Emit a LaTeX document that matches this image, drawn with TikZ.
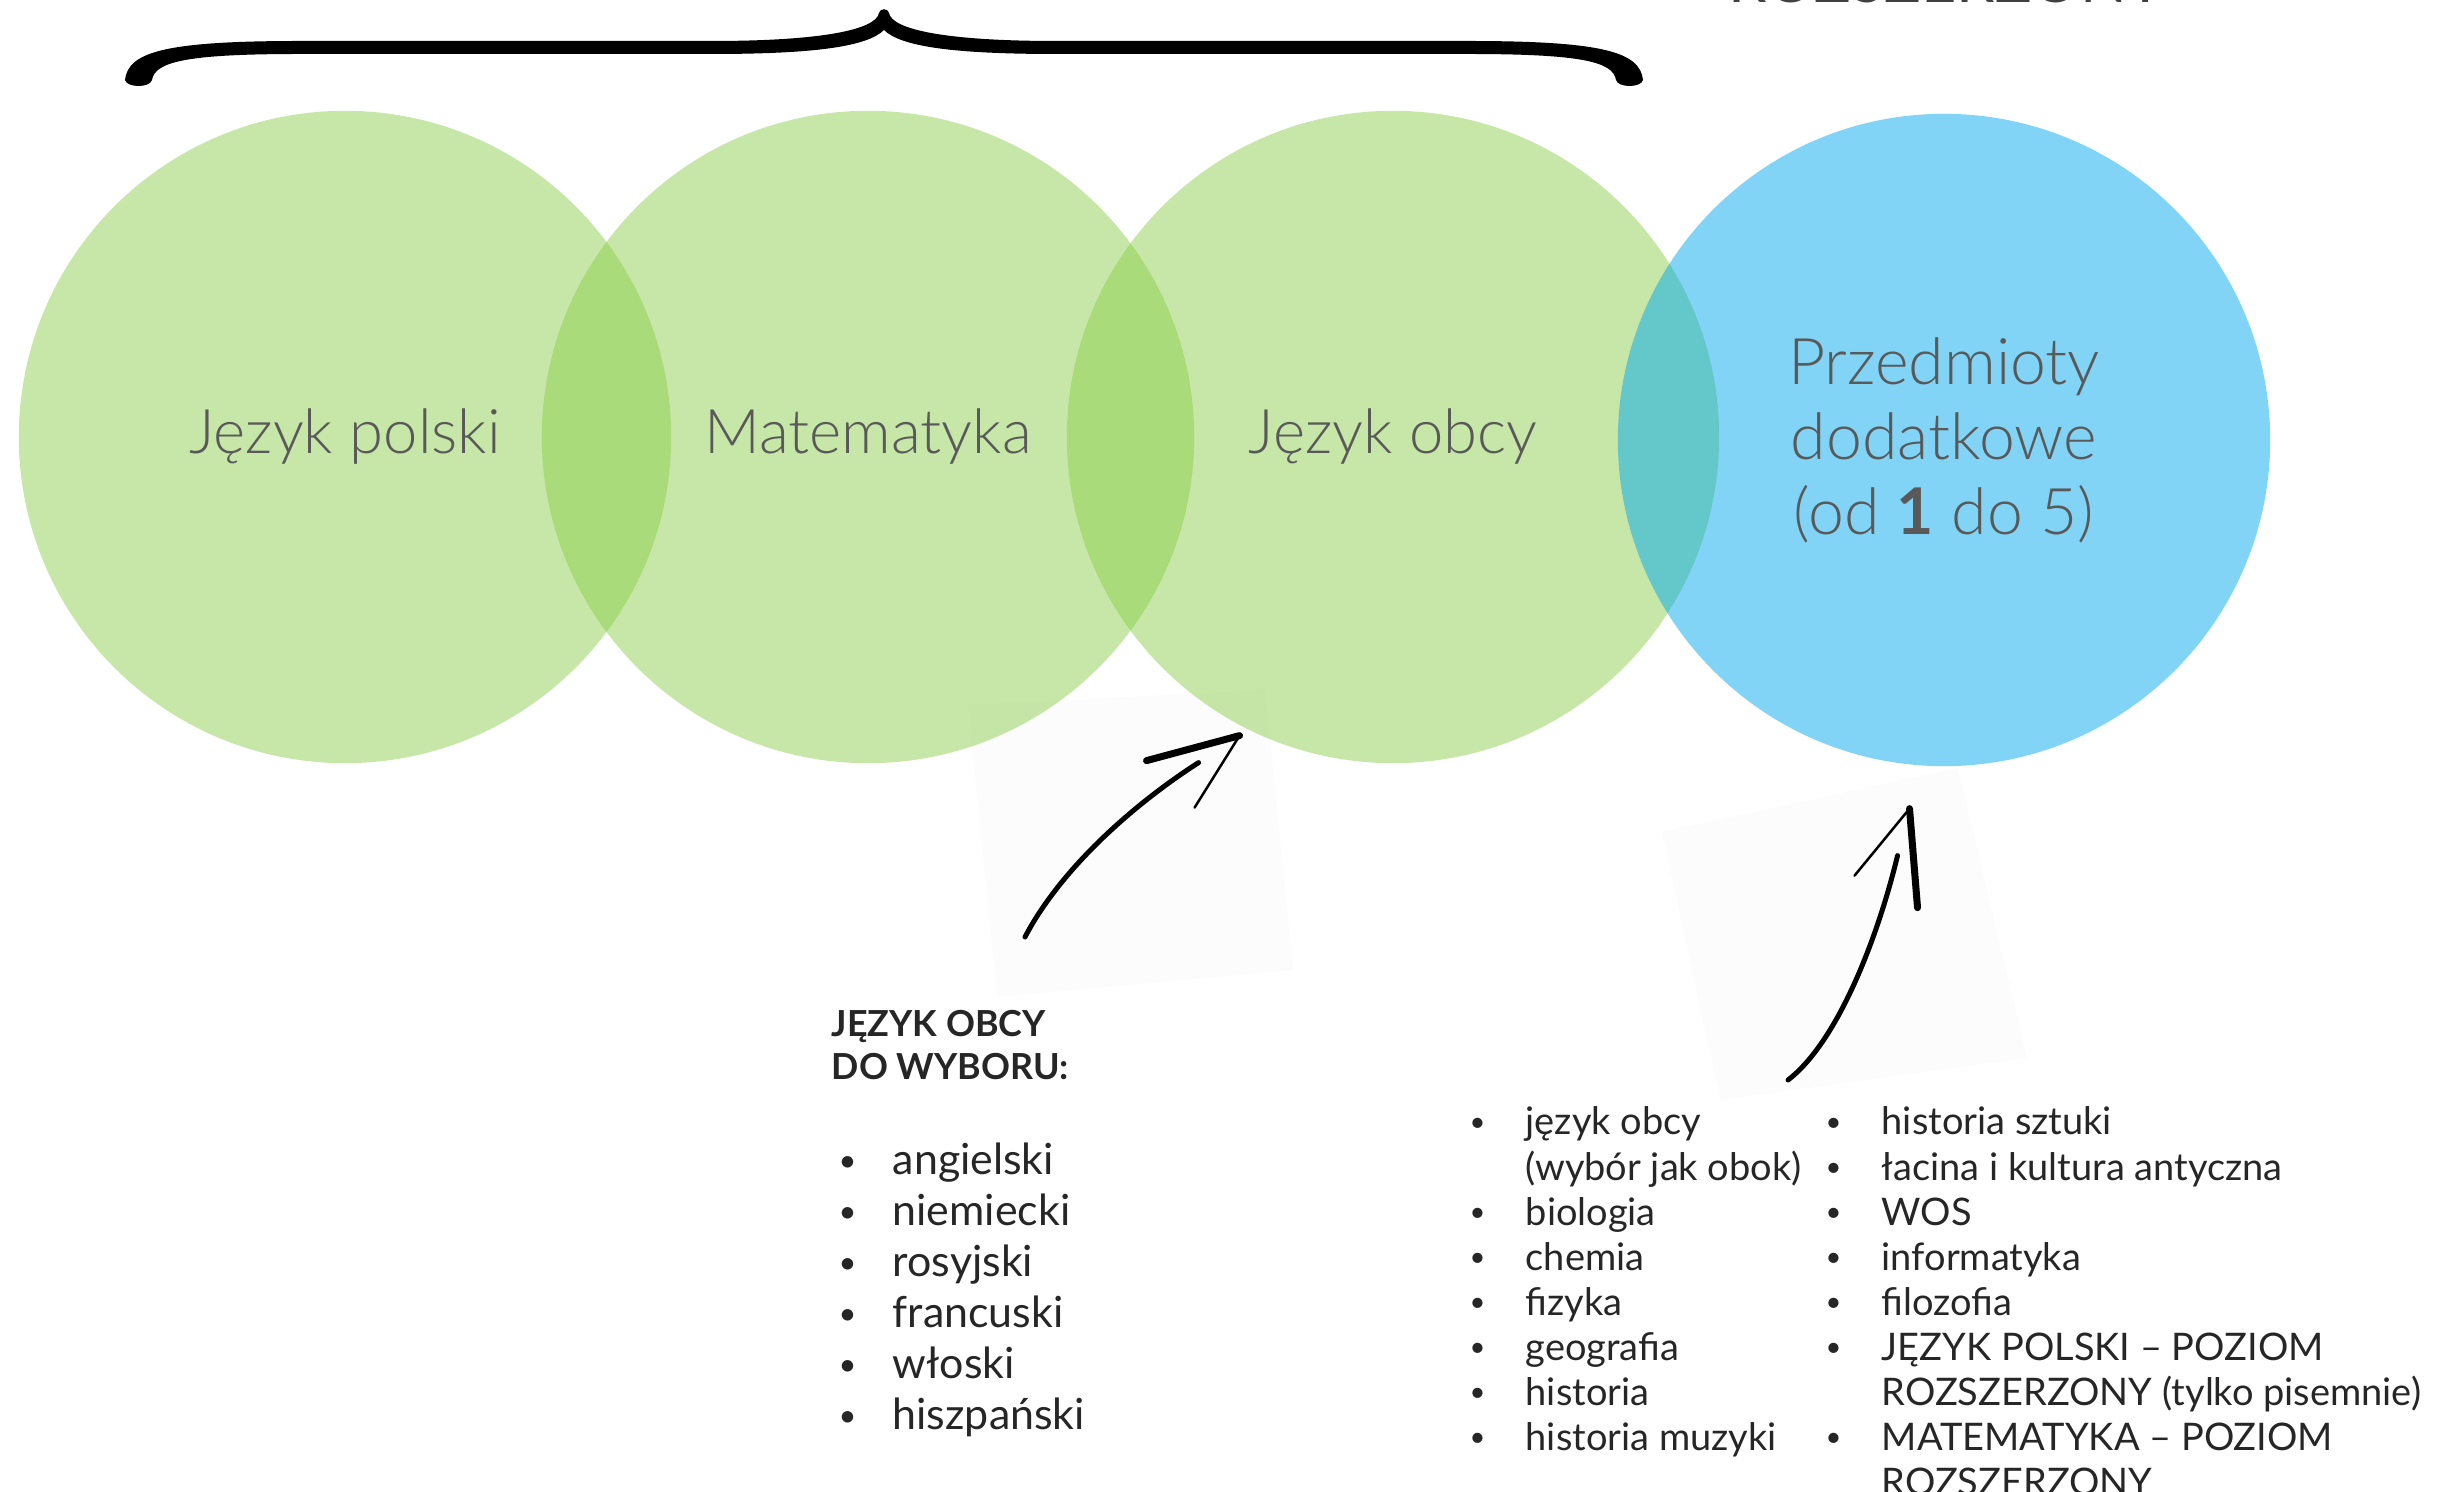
\documentclass[tikz,border=0pt]{standalone}
\usepackage{fontspec}
\setmainfont{Lato}
\newfontfamily\thinfont{Lato}[UprightFont=* Light, BoldFont=* Bold]
\usetikzlibrary{positioning}

\definecolor{venngreen}{HTML}{8ECF4F}
\definecolor{vennblue}{HTML}{03AAEE}
\definecolor{labelgray}{HTML}{595959}
\definecolor{listgray}{HTML}{262626}
\definecolor{scrap}{HTML}{FCFCFC}

\newcommand\listdot{\raisebox{0.09em}{\scalebox{0.72}{•}}}

\tikzset{
  subject/.style={circle, minimum size=6.52cm, inner sep=0pt, fill opacity=0.5, text opacity=1,
    text=labelgray, align=center, font=\thinfont\fontsize{17.5}{21.3}\selectfont},
  listtext/.style={inner sep=0pt, anchor=base west, text=listgray},
  pencil/.style={black, line width=0.05cm, line cap=round},
  fine pencil/.style={black, line width=0.025cm, line cap=round},
  bold pencil/.style={black, line width=0.07cm, line cap=round},
}

\begin{document}
\begin{tikzpicture}[x=0.01cm, y=-0.01cm]
    \useasboundingbox (0,0) rectangle (2445,1492);
    % scraps of paper under the arrows
    \fill [scrap] (968,705) -- (1265,690) -- (1293,970) -- (997,997) -- cycle;
    \fill [scrap] (1662,832) -- (1958,768) -- (2027,1058) -- (1720,1100) -- cycle;

    \node [subject, fill=venngreen] (pol) at (345,437) {Język polski};
    \node [subject, fill=venngreen] (mat) at (868,437) {Matematyka};
    \node [subject, fill=venngreen] (obc) at (1393,437) {Język obcy};
    \node [subject, fill=vennblue, font=\thinfont\fontsize{18.3}{21.3}\selectfont] (dod) at (1944,440)
      {Przedmioty\\dodatkowe\\(od \textbf{1} do 5)};

    % brace over the three green circles
    \fill [black] (125,80) .. controls (128,52) and (165,41) .. (300,41) -- (712,41)
      .. controls (820,41) and (876,30) .. (879,13) .. controls (880,8) and (888,8) .. (889,13)
      .. controls (892,30) and (948,41) .. (1056,41) -- (1468,41)
      .. controls (1603,41) and (1640,52) .. (1643,80) .. controls (1641,88) and (1618,88) .. (1616,80)
      .. controls (1613,62) and (1583,54) .. (1468,54) -- (1056,54)
      .. controls (950,54) and (900,46) .. (884,30) .. controls (868,46) and (818,54) .. (712,54)
      -- (300,54) .. controls (185,54) and (155,62) .. (152,80)
      .. controls (150,88) and (127,88) .. (125,80) -- cycle;

    \node [listtext, text=black!75, font=\fontsize{17.4}{20}\selectfont] (cut) at (1728,3) {ROZSZERZONY};

    \node [listtext, font=\bfseries\fontsize{10.2}{12.2}\selectfont] (jhead) at (831,1037)
      {\begin{tabular}[t]{@{}l@{}}JĘZYK OBCY\\DO WYBORU:\end{tabular}};
    \node [listtext, font=\fontsize{12.2}{14.5}\selectfont] (jlist) at (838,1175)
      {\begin{tabular}[t]{@{}p{0.54cm}@{}l@{}}
        \listdot & angielski\\ \listdot & niemiecki\\ \listdot & rosyjski\\
        \listdot & francuski\\ \listdot & włoski\\ \listdot & hiszpański
      \end{tabular}};
    \node [listtext, font=\fontsize{10.8}{12.8}\selectfont] (dlist) at (1469,1135)
      {\begin{tabular}[t]{@{}p{0.56cm}@{}l@{}}
        \listdot & język obcy\\ & (wybór jak obok)\\ \listdot & biologia\\ \listdot & chemia\\
        \listdot & fizyka\\ \listdot & geografia\\ \listdot & historia\\ \listdot & historia muzyki
      \end{tabular}};
    \node [listtext, font=\fontsize{10.8}{12.8}\selectfont] (elist) at (1825,1135)
      {\begin{tabular}[t]{@{}p{0.56cm}@{}l@{}}
        \listdot & historia sztuki\\ \listdot & łacina i kultura antyczna\\ \listdot & WOS\\
        \listdot & informatyka\\ \listdot & filozofia\\ \listdot & JĘZYK POLSKI – POZIOM\\
          & ROZSZERZONY (tylko pisemnie)\\ \listdot & MATEMATYKA – POZIOM\\ & ROZSZERZONY
      \end{tabular}};

    % sketched arrows
    \coordinate (t1) at (1025,937);
    \coordinate (h1) at ([yshift=-0.1cm]obc.242);
    \draw [pencil] (t1) .. controls +(35,-67) and +(-67,43) .. ([shift={(-41,27)}]h1);
    \draw [bold pencil] (h1) -- ++(-93,25);
    \draw [fine pencil] (h1) -- ++(-45,72);

    \coordinate (t2) at (1788,1080);
    \coordinate (h2) at ([shift={(-6,43)}]dod.265);
    \draw [pencil] (t2) .. controls +(52,-40) and +(-18,75) .. ([shift={(-12,47)}]h2);
    \draw [bold pencil] (h2) -- ++(8,99);
    \draw [fine pencil] (h2) -- ++(-55,67);
\end{tikzpicture}
\end{document}
